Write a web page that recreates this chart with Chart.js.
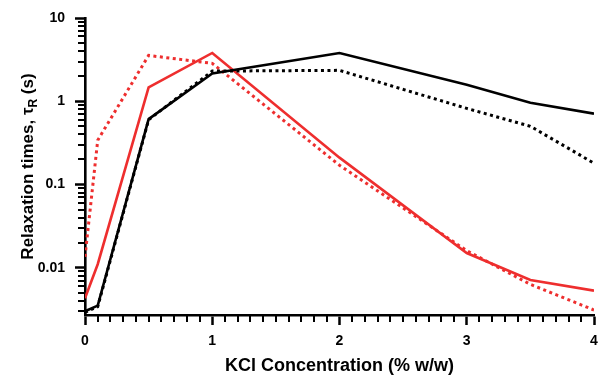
<!DOCTYPE html>
<html>
<head>
<meta charset="utf-8">
<script src="https://cdn.jsdelivr.net/npm/chart.js@4.4.0/dist/chart.umd.min.js"></script>
<style>
  body { margin: 0; background: #fff; }
  #wrap { width: 601px; height: 377px; position: relative; }
</style>
</head>
<body>
<div id="wrap"><canvas id="myChart"></canvas></div>
<script>
// KCl Konzentration (% w/w)
const kclConc = [0, 0.1, 0.5, 1, 2, 3, 3.5, 4];

// Relaxationszeiten (s)
const blackSolid  = [0.0030, 0.0035, 0.61, 2.15, 3.8, 1.58, 0.96, 0.71];
const blackDotted = [0.0029, 0.0034, 0.60, 2.3, 2.35, 0.82, 0.50, 0.18];
const redSolid    = [0.0043, 0.011, 1.47, 3.8, 0.21, 0.015, 0.0071, 0.0053];
const redDotted   = [0.0135, 0.34, 3.55, 2.85, 0.17, 0.016, 0.0063, 0.0031];

// Achsen
const xMajorTicks = [0, 1, 2, 3, 4];
const yMajorTicks = [0.01, 0.1, 1, 10];
const yMin = 0.0027;
const yMax = 10;

const red = '#ee2e2e';
const fontFamily = '"Liberation Sans", Arial, sans-serif';

function toPoints(ys) {
    return kclConc.map((x, i) => ({ x: x, y: ys[i] }));
}

// kleine Ticks (ohne Beschriftung)
const xMinorTicks = [];
for (let i = 1; i < 40; i++) {
    if (i % 10 !== 0) xMinorTicks.push(i / 10);
}
const yMinorTicks = [];
for (let d = -3; d <= 0; d++) {
    for (let m = 2; m <= 9; m++) {
        const v = m * Math.pow(10, d);
        if (v >= yMin && v <= yMax) yMinorTicks.push(v);
    }
}

const minorTicksPlugin = {
    id: 'minorTicks',
    afterDraw(chart) {
        const { ctx, chartArea, scales } = chart;
        ctx.save();
        ctx.strokeStyle = '#000';
        ctx.lineWidth = 2;
        ctx.beginPath();
        xMinorTicks.forEach(v => {
            const px = Math.round(scales.x.getPixelForValue(v));
            ctx.moveTo(px, chartArea.bottom);
            ctx.lineTo(px, chartArea.bottom + 7);
        });
        yMinorTicks.forEach(v => {
            const py = Math.round(scales.y.getPixelForValue(v));
            ctx.moveTo(chartArea.left, py);
            ctx.lineTo(chartArea.left - 7, py);
        });
        ctx.stroke();
        ctx.restore();
    }
};

// y-Titel mit tiefgestelltem R
const yTitlePlugin = {
    id: 'yTitle',
    afterDraw(chart) {
        const { ctx, chartArea } = chart;
        const main = 'bold 17px ' + fontFamily;
        const sub = 'bold 12px ' + fontFamily;
        const parts = [
            { t: 'Relaxation times, \u03C4', f: main, dy: 0 },
            { t: 'R', f: sub, dy: 4 },
            { t: ' (s)', f: main, dy: 0 }
        ];
        let total = 0;
        parts.forEach(p => { ctx.font = p.f; p.w = ctx.measureText(p.t).width; total += p.w; });
        ctx.save();
        ctx.translate(27, (chartArea.top + chartArea.bottom) / 2);
        ctx.rotate(-Math.PI / 2);
        ctx.fillStyle = '#000';
        ctx.textBaseline = 'alphabetic';
        ctx.textAlign = 'left';
        let x = -total / 2;
        parts.forEach(p => {
            ctx.font = p.f;
            ctx.fillText(p.t, x, 6 + p.dy);
            x += p.w;
        });
        ctx.restore();
    }
};

let chart = new Chart(document.getElementById('myChart'), {
    type: 'line',
    data: {
        datasets: [
            { label: 'schwarz', data: toPoints(blackSolid), borderColor: '#000', borderWidth: 2.6 },
            { label: 'schwarz gepunktet', data: toPoints(blackDotted), borderColor: '#000', borderWidth: 3, borderDash: [3, 3.5] },
            { label: 'rot', data: toPoints(redSolid), borderColor: red, borderWidth: 2.6 },
            { label: 'rot gepunktet', data: toPoints(redDotted), borderColor: red, borderWidth: 3, borderDash: [3, 3.5] }
        ]
    },
    options: {
        responsive: true,
        maintainAspectRatio: false,
        animation: false,
        layout: { padding: { top: 18, right: 7, left: 0, bottom: 0 } },
        elements: { point: { radius: 0 }, line: { tension: 0, fill: false } },
        plugins: { legend: { display: false }, tooltip: { enabled: false } },
        scales: {
            x: {
                type: 'linear', min: 0, max: 4,
                afterBuildTicks: scale => { scale.ticks = xMajorTicks.map(v => ({ value: v })); },
                afterFit: scale => { scale.height = 62; scale.paddingLeft = 0; scale.paddingRight = 0; },
                grid: { drawOnChartArea: false, tickLength: 10, tickWidth: 2.5, tickColor: '#000' },
                border: { display: true, color: '#000', width: 2.6 },
                ticks: { color: '#000', padding: 8, maxRotation: 0,
                         font: { family: fontFamily, size: 14, weight: 'bold' } },
                title: { display: true, text: 'KCl Concentration (% w/w)', color: '#000', padding: { top: 0, bottom: 0 },
                         font: { family: fontFamily, size: 18, weight: 'bold' } }
            },
            y: {
                type: 'logarithmic', min: yMin, max: yMax,
                afterBuildTicks: scale => { scale.ticks = yMajorTicks.map(v => ({ value: v })); },
                afterFit: scale => { scale.width = 85; scale.paddingTop = 0; scale.paddingBottom = 0; },
                grid: { drawOnChartArea: false, tickLength: 10, tickWidth: 2.5, tickColor: '#000' },
                border: { display: true, color: '#000', width: 2.6 },
                ticks: { color: '#000', padding: 10,
                         font: { family: fontFamily, size: 14, weight: 'bold' },
                         callback: value => String(value) }
            }
        }
    },
    plugins: [minorTicksPlugin, yTitlePlugin]
});
</script>
</body>
</html>
